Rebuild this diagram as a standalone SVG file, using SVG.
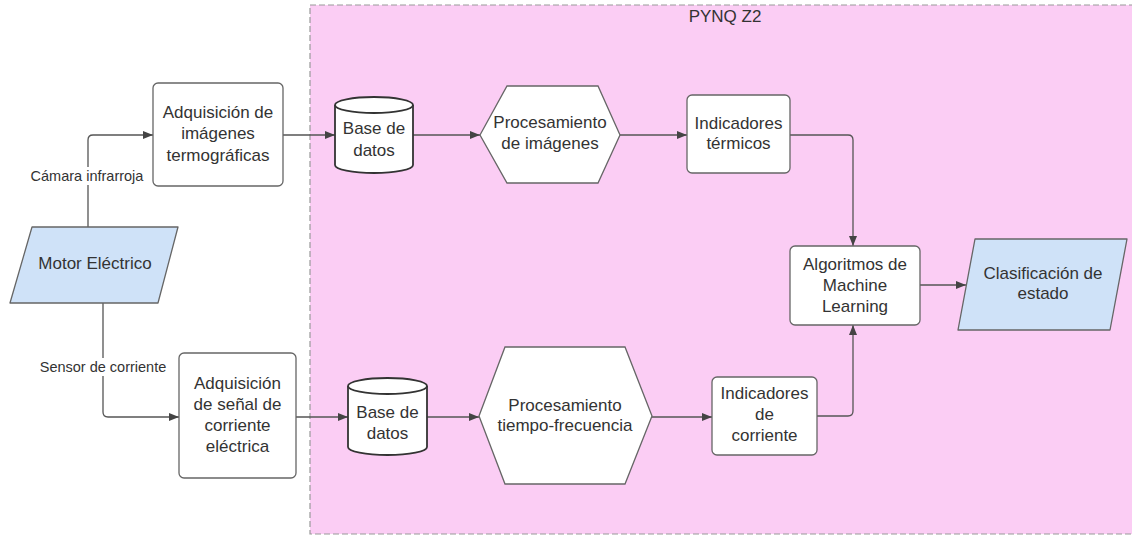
<svg xmlns="http://www.w3.org/2000/svg" width="1132" height="537" viewBox="0 0 1132 537">
<style>
text{font-family:"Liberation Sans",Arial,sans-serif;font-size:17px;fill:#333;text-anchor:middle}
.lbl{font-size:14.5px}
.box{fill:#fff;stroke:#666;stroke-width:1.3}
.cyl{fill:#fff;stroke:#333;stroke-width:1.8}
.blue{fill:#cfe2f8;stroke:#666;stroke-width:1.3}
.con{fill:none;stroke:#555;stroke-width:1.3;marker-end:url(#arr)}
</style>
<defs>
<marker id="arr" markerUnits="userSpaceOnUse" markerWidth="10" markerHeight="8" refX="10" refY="4" orient="auto">
<path d="M0,0 L10,4 L0,8 z" fill="#444"/>
</marker>
</defs>
<rect width="1132" height="537" fill="#fff"/>
<g id="pynq">
<rect x="310" y="5" width="830" height="529" fill="#fbcdf4" stroke="#999" stroke-width="1.2" stroke-dasharray="6,3"/>
<text x="725" y="22">PYNQ Z2</text>
</g>
<g id="connectors">
<path class="con" d="M88,227 V140 Q88,135 93,135 H153"/>
<path class="con" d="M103,303 V412 Q103,417 108,417 H179"/>
<path class="con" d="M283,135 H335"/>
<path class="con" d="M296,417 H348"/>
<path class="con" d="M413,135 H480"/>
<path class="con" d="M427,417 H479"/>
<path class="con" d="M620,135 H687"/>
<path class="con" d="M652,417 H712"/>
<path class="con" d="M790,135 H848 Q853,135 853,140 V246"/>
<path class="con" d="M817,416 H848 Q853,416 853,411 V325"/>
<path class="con" d="M920,285 H966"/>
<rect x="29" y="167" width="116" height="18" fill="#fff"/>
<text class="lbl" x="87" y="181">Cámara infrarroja</text>
<rect x="38" y="358" width="130" height="18" fill="#fff"/>
<text class="lbl" x="103" y="372">Sensor de corriente</text>
</g>
<g id="motor">
<path class="blue" d="M32,227 H178 L158,303 H10 Z" stroke-linejoin="round"/>
<text x="95" y="269">Motor Eléctrico</text>
</g>
<g id="adq-img">
<rect class="box" x="153" y="83" width="130" height="103" rx="5"/>
<text x="218" y="118">Adquisición de</text>
<text x="218" y="139">imágenes</text>
<text x="218" y="161">termográficas</text>
</g>
<g id="adq-cor">
<rect class="box" x="179" y="353" width="117" height="125" rx="5"/>
<text x="237.5" y="389">Adquisición</text>
<text x="237.5" y="410">de señal de</text>
<text x="237.5" y="431">corriente</text>
<text x="237.5" y="452">eléctrica</text>
</g>
<g id="db1">
<path class="cyl" d="M335,105 A39,8 0 0 1 413,105 V165 A39,8 0 0 1 335,165 Z"/>
<path d="M335,105 A39,8 0 0 0 413,105" fill="none" stroke="#333" stroke-width="1.8"/>
<text x="374" y="134">Base de</text>
<text x="374" y="156">datos</text>
</g>
<g id="db2">
<path class="cyl" d="M348,386 A39.5,8 0 0 1 427,386 V447 A39.5,8 0 0 1 348,447 Z"/>
<path d="M348,386 A39.5,8 0 0 0 427,386" fill="none" stroke="#333" stroke-width="1.8"/>
<text x="387.5" y="418">Base de</text>
<text x="387.5" y="439">datos</text>
</g>
<g id="proc-img">
<path class="box" d="M480,135 L507,86 H598 L620,135 L598,183 H507 Z"/>
<text x="550" y="128">Procesamiento</text>
<text x="550" y="149">de imágenes</text>
</g>
<g id="proc-tf">
<path class="box" d="M479,416 L505,347 H625 L652,416 L625,484 H505 Z"/>
<text x="565" y="411">Procesamiento</text>
<text x="565" y="431">tiempo-frecuencia</text>
</g>
<g id="ind-term">
<rect class="box" x="687" y="95" width="103" height="78" rx="5"/>
<text x="738.5" y="129">Indicadores</text>
<text x="738.5" y="149">térmicos</text>
</g>
<g id="ind-cor">
<rect class="box" x="712" y="377" width="105" height="78" rx="5"/>
<text x="764.5" y="399">Indicadores</text>
<text x="764.5" y="420">de</text>
<text x="764.5" y="441">corriente</text>
</g>
<g id="ml">
<rect class="box" x="790" y="246" width="130" height="79" rx="5"/>
<text x="855" y="270">Algoritmos de</text>
<text x="855" y="291">Machine</text>
<text x="855" y="312">Learning</text>
</g>
<g id="clasif">
<path class="blue" d="M975,239 H1127 L1110,330 H958 Z" stroke-linejoin="round"/>
<text x="1043" y="279">Clasificación de</text>
<text x="1043" y="299">estado</text>
</g>
</svg>
